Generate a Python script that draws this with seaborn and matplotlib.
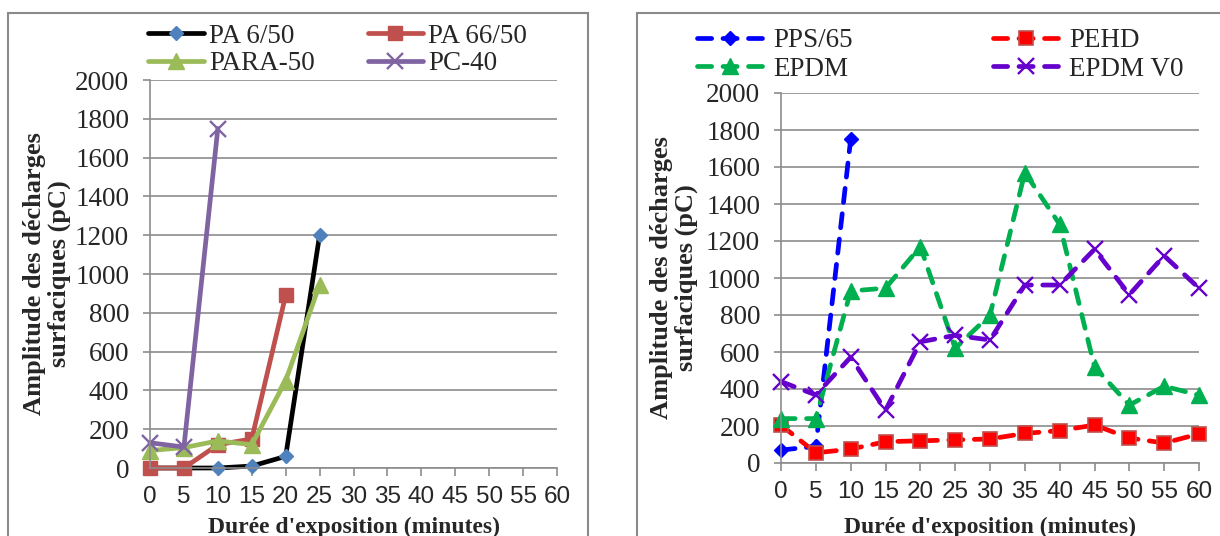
import matplotlib
matplotlib.use("Agg")
import matplotlib.pyplot as plt
import seaborn as sns
import pandas as pd
from matplotlib.patches import Rectangle

# ---------------- data ----------------
times = [0, 5, 10, 15, 20, 25, 30, 35, 40, 45, 50, 55, 60]
yticks = [0, 200, 400, 600, 800, 1000, 1200, 1400, 1600, 1800, 2000]

# left panel
pa6 = [0, 0, 0, 10, 60, 1200]
pa66 = [0, 0, 120, 150, 890]
para50 = [90, 105, 140, 120, 450, 945]
pc40 = [130, 108, 1750]

# right panel
pps65 = [70, 90, 1750]
pehd = [205, 55, 75, 115, 120, 125, 130, 160, 175, 205, 135, 108, 157]
epdm = [240, 240, 930, 945, 1170, 620, 800, 1570, 1290, 520, 313, 415, 367]
epdm_v0 = [440, 368, 572, 285, 655, 690, 665, 962, 962, 1155, 910, 1120, 945]

xlabel = "Durée d'exposition (minutes)"
ylabel = "Amplitude des décharges\nsurfaciques (pC)"

# ---------------- style ----------------
sns.set_style("white")
plt.rcParams["font.family"] = ["Liberation Serif", "DejaVu Serif"]

W, H = 1220, 536
fig = plt.figure(figsize=(W / 100, H / 100), dpi=100)

GRID = "#8c8c8c"
SERIF = "Liberation Serif"
SANS = "Liberation Sans"


def px_axes(x0, x1, ytop, ybot):
    return fig.add_axes([x0 / W, 1 - ybot / H, (x1 - x0) / W, (ybot - ytop) / H])


axL = px_axes(150, 557, 80, 468)
axR = px_axes(781, 1199, 93, 463)

# panel borders
fig.add_artist(Rectangle((8 / W, -0.1), (588 - 8) / W, 1 - 13 / H + 0.1,
                         transform=fig.transFigure, fill=False,
                         edgecolor="#8a8a8a", lw=1.5))
fig.add_artist(Rectangle((637 / W, -0.1), 0.6, 1 - 13 / H + 0.1,
                         transform=fig.transFigure, fill=False,
                         edgecolor="#8a8a8a", lw=1.5))


def draw_series(ax, name, vals, color, marker, ms, mfc, mec, mew, dashed):
    df = pd.DataFrame({"t": times[:len(vals)], "v": vals})
    sns.lineplot(data=df, x="t", y="v", ax=ax, color=color, marker=marker,
                 markersize=ms, markerfacecolor=mfc, markeredgecolor=mec,
                 markeredgewidth=mew, linewidth=3.4, legend=False,
                 clip_on=False)
    line = ax.lines[-1]
    line.set_label(name)
    line.set_solid_capstyle("round")
    line.set_solid_joinstyle("round")
    if dashed:
        line.set_dashes((3.0, 2.4))
        line.set_dash_capstyle("round")
    return line


def style_axes(ax, ylab_x, xlab_y):
    ax.set_xlim(0, 60)
    ax.set_ylim(0, 2000)
    ax.set_xticks(times)
    ax.set_xticklabels([str(t) for t in times], fontfamily=SANS, fontsize=17.5)
    ax.set_yticks(yticks)
    ax.set_yticklabels([str(v) for v in yticks], fontfamily=SERIF, fontsize=19.5)
    ax.yaxis.grid(True, color=GRID, lw=1.2)
    ax.xaxis.grid(False)
    ax.set_axisbelow(True)
    for s in ["top", "right"]:
        ax.spines[s].set_visible(False)
    for s in ["left", "bottom"]:
        ax.spines[s].set_color(GRID)
        ax.spines[s].set_linewidth(1.2)
    ax.tick_params(axis="x", direction="out", length=6, width=1.2,
                   color=GRID, pad=7, bottom=True)
    ax.tick_params(axis="y", direction="out", length=5, width=1.2,
                   color=GRID, pad=10, left=True)
    ax.set_xlabel(xlabel, fontfamily=SERIF, fontweight="bold", fontsize=17)
    ax.set_ylabel(ylabel, fontfamily=SERIF, fontweight="bold", fontsize=19,
                  linespacing=1.05)
    ax.xaxis.label.set_va("center")
    ax.yaxis.label.set_va("center")
    ax.yaxis.set_label_coords(ylab_x, 0.5)
    ax.xaxis.set_label_coords(0.5, xlab_y)
    ax.set_facecolor("white")


# left panel
hL = {}
hL["PA 6/50"] = draw_series(axL, "PA 6/50", pa6, "black", "D", 7.5, "#4F81BD", "#4F81BD", 1, False)
hL["PA 66/50"] = draw_series(axL, "PA 66/50", pa66, "#C0504D", "s", 10.5, "#C0504D", "#C0504D", 1, False)
hL["PARA-50"] = draw_series(axL, "PARA-50", para50, "#9BBB59", "^", 11.5, "#9BBB59", "#9BBB59", 1, False)
hL["PC-40"] = draw_series(axL, "PC-40", pc40, "#8064A2", "x", 11, "#8064A2", "#8064A2", 1.7, False)
style_axes(axL, -0.253, -0.152)

# right panel
hR = {}
hR["PPS/65"] = draw_series(axR, "PPS/65", pps65, "#0000FF", "D", 7.5, "#0000FF", "#0000FF", 1, True)
hR["PEHD"] = draw_series(axR, "PEHD", pehd, "#FF0000", "s", 10.5, "#FF0000", "#C0504D", 1.2, True)
hR["EPDM"] = draw_series(axR, "EPDM", epdm, "#00B050", "^", 11.5, "#00B050", "#00B050", 1, True)
hR["EPDM V0"] = draw_series(axR, "EPDM V0", epdm_v0, "#6600CC", "x", 11, "#6600CC", "#6600CC", 1.7, True)
style_axes(axR, -0.256, -0.173)

# legends
orderL = ["PA 6/50", "PARA-50", "PA 66/50", "PC-40"]
axL.legend([hL[k] for k in orderL], orderL, ncol=2, loc="center left",
           bbox_to_anchor=(148 / W, 1 - 50 / H), bbox_transform=fig.transFigure,
           frameon=False, borderpad=0, borderaxespad=0, numpoints=1,
           prop={"family": SERIF, "size": 19.5}, handlelength=2.05,
           handletextpad=0.2, columnspacing=1.95, labelspacing=0.1)

orderR = ["PPS/65", "EPDM", "PEHD", "EPDM V0"]
axR.legend([hR[k] for k in orderR], orderR, ncol=2, loc="center left",
           bbox_to_anchor=(697 / W, 1 - 55 / H), bbox_transform=fig.transFigure,
           frameon=False, borderpad=0, borderaxespad=0, numpoints=1,
           prop={"family": SERIF, "size": 19.5}, handlelength=2.4,
           handletextpad=0.4, columnspacing=5.2, labelspacing=0.12)

fig.savefig("out.png", dpi=100)
